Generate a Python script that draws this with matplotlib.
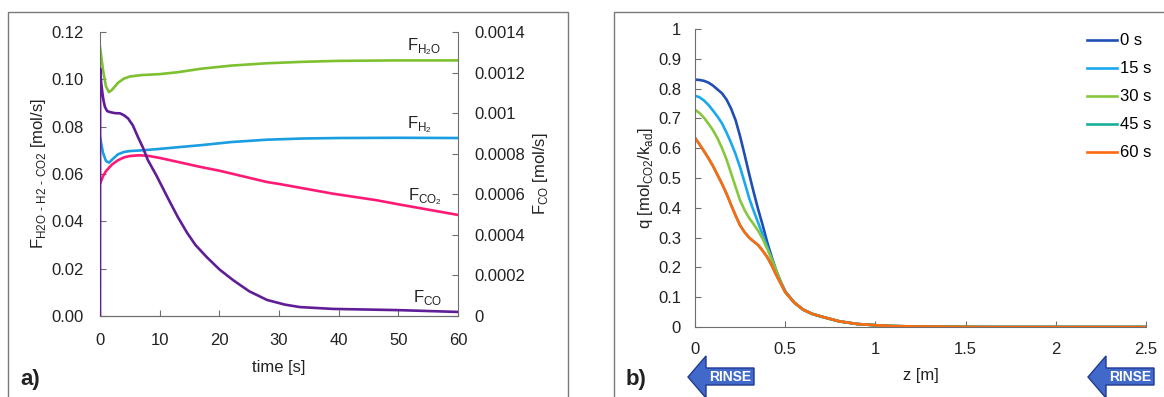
import matplotlib
matplotlib.use("Agg")
import matplotlib.pyplot as plt
from matplotlib.patches import Rectangle, Polygon

plt.rcParams['font.family'] = ['Liberation Sans', 'DejaVu Sans']

# ---- panel a) data: outlet flows vs time ----
t_h2o = [0, 0.5, 1.0, 1.5, 2, 3, 4, 5, 7, 10, 13, 17, 22, 28, 34, 40, 50, 60]
f_h2o = [0.1137, 0.104, 0.097, 0.0946, 0.0955, 0.0985, 0.1003, 0.1012, 0.1018,
         0.1022, 0.1030, 0.1045, 0.1058, 0.1068, 0.1074, 0.1078, 0.1080, 0.1080]

t_h2 = [0, 0.5, 1.0, 1.5, 2, 3, 4, 5, 7, 10, 13, 17, 22, 28, 34, 40, 50, 60]
f_h2 = [0.0756, 0.069, 0.0655, 0.0648, 0.0660, 0.0683, 0.0693, 0.0697, 0.0700,
        0.0706, 0.0713, 0.0722, 0.0735, 0.0745, 0.0750, 0.0752, 0.0753, 0.0752]

t_co2 = [0, 0.5, 1, 2, 3, 4, 5, 6.5, 8, 10, 16.8, 20, 28, 30, 39, 46.4, 50, 60]
f_co2 = [0.0559, 0.059, 0.0612, 0.0640, 0.0658, 0.0670, 0.0676, 0.0679, 0.0677,
         0.0668, 0.0630, 0.0614, 0.0566, 0.0558, 0.0517, 0.0489, 0.0472, 0.0427]

t_co = [0, 0.02, 0.2, 0.4, 0.6, 0.84, 1.2, 1.7, 2.5, 3.35, 4.0, 4.7, 5.5, 6.4,
        7.2, 8, 9.5, 11.4, 13, 14.6, 16, 17.9, 20, 22.3, 25, 28, 31, 33.5, 39,
        50, 60]
f_co = [0, 0.00122, 0.00115, 0.00110, 0.00106, 0.00103, 0.00101, 0.001005,
        0.001, 0.000999, 0.00099, 0.000974, 0.00094, 0.00088, 0.00083, 0.00077,
        0.00069, 0.00058, 0.00049, 0.00041, 0.00035, 0.00029, 0.00023, 0.000177,
        0.000122, 0.000079, 0.000056, 0.000044, 0.000035, 0.000029, 0.00002]

left_ticks = [0.00, 0.02, 0.04, 0.06, 0.08, 0.10, 0.12]
left_labels = ['0.00', '0.02', '0.04', '0.06', '0.08', '0.10', '0.12']
right_ticks = [0, 0.0002, 0.0004, 0.0006, 0.0008, 0.001, 0.0012, 0.0014]
right_labels = ['0', '0.0002', '0.0004', '0.0006', '0.0008', '0.001', '0.0012', '0.0014']

# ---- panel b) data: loading profiles along the column ----
z = [0, 0.025, 0.05, 0.075, 0.1, 0.125, 0.15, 0.175, 0.2, 0.225, 0.25, 0.275,
     0.3, 0.325, 0.35, 0.375, 0.4, 0.425, 0.45, 0.475, 0.5,
     0.55, 0.6, 0.65, 0.7, 0.75, 0.8, 0.9, 1.0, 1.1, 1.2, 1.4, 1.6, 2.0, 2.5]
tail = [0.082, 0.058, 0.044, 0.035, 0.027, 0.019, 0.010, 0.006, 0.003, 0.002,
        0.001, 0, 0, 0]
q_0s = [0.830, 0.829, 0.826, 0.820, 0.810, 0.797, 0.784, 0.763, 0.733, 0.694,
        0.640, 0.578, 0.514, 0.453, 0.395, 0.342, 0.285, 0.235, 0.190, 0.152,
        0.120] + tail
q_15s = [0.776, 0.771, 0.760, 0.745, 0.726, 0.706, 0.683, 0.652, 0.618, 0.580,
         0.536, 0.485, 0.433, 0.390, 0.350, 0.310, 0.270, 0.228, 0.186, 0.150,
         0.119] + tail
q_30s = [0.729, 0.718, 0.702, 0.682, 0.660, 0.633, 0.600, 0.562, 0.516, 0.470,
         0.425, 0.392, 0.366, 0.345, 0.323, 0.296, 0.263, 0.228, 0.190, 0.152,
         0.118] + tail
q_45s = [0.635, 0.613, 0.590, 0.566, 0.540, 0.510, 0.480, 0.447, 0.410, 0.374,
         0.341, 0.318, 0.300, 0.287, 0.275, 0.256, 0.235, 0.207, 0.175, 0.146,
         0.117] + tail
q_60s = [0.635, 0.613, 0.590, 0.566, 0.540, 0.510, 0.480, 0.447, 0.410, 0.374,
         0.341, 0.318, 0.300, 0.287, 0.275, 0.256, 0.235, 0.207, 0.175, 0.146,
         0.117] + tail
profiles = [q_0s, q_15s, q_30s, q_45s, q_60s]
profile_labels = ['0 s', '15 s', '30 s', '45 s', '60 s']
profile_colors = ['#1F4FB5', '#1AA8EE', '#86C73E', '#19AE9C', '#FF6A10']

z_ticks = [0, 0.5, 1, 1.5, 2, 2.5]
z_labels = ['0', '0.5', '1', '1.5', '2', '2.5']
q_ticks = [0, 0.1, 0.2, 0.3, 0.4, 0.5, 0.6, 0.7, 0.8, 0.9, 1.0]
q_labels = ['0', '0.1', '0.2', '0.3', '0.4', '0.5', '0.6', '0.7', '0.8', '0.9', '1']

SPINE = '#6e6e6e'
TXT = '#222222'
W, H = 1164, 397


def style_axis(ax, pad):
    for side in ['left', 'bottom', 'right']:
        ax.spines[side].set_color(SPINE)
    ax.spines['top'].set_visible(False)
    ax.tick_params(direction='in', length=4, color=SPINE, labelcolor=TXT,
                   labelsize=12, pad=pad)


def rinse_arrow(fig, x_tip):
    '''left pointing block arrow with RINSE written in its body (pixel coords)'''
    pts = [(x_tip, 377), (x_tip + 18, 356), (x_tip + 18, 368), (x_tip + 66, 368),
           (x_tip + 66, 385), (x_tip + 18, 385), (x_tip + 18, 398)]
    pts = [(px / W, 1 - py / H) for px, py in pts]
    fig.add_artist(Polygon(pts, closed=True, transform=fig.transFigure,
                           fc='#4169C9', ec='#1F3A8F', lw=1))
    fig.text((x_tip + 42) / W, 1 - 377 / H, 'RINSE', fontsize=10,
             fontweight='bold', color='white', ha='center', va='center')


fig = plt.figure(figsize=(11.64, 3.97), dpi=100)

# panel frames
fig.add_artist(Rectangle((8 / W, -0.1), 560 / W, 1.1 - 12 / H,
                         transform=fig.transFigure, fill=False, ec='#7a7a7a', lw=1))
fig.add_artist(Rectangle((614 / W, -0.1), 0.6, 1.1 - 12 / H,
                         transform=fig.transFigure, fill=False, ec='#7a7a7a', lw=1))

# ---------------- panel a) ----------------
ax = fig.add_axes([100 / W, 81 / H, 358 / W, 284 / H])
ax2 = ax.twinx()
style_axis(ax, 12)
style_axis(ax2, 12)
ax.spines['right'].set_visible(False)
ax2.spines['left'].set_visible(False)

ax.plot(t_h2o, f_h2o, color='#7DC130', lw=1.9)
ax.plot(t_h2, f_h2, color='#1B9DE2', lw=1.9)
ax.plot(t_co2, f_co2, color='#FF1A75', lw=1.9)
ax2.plot(t_co, f_co, color='#5F1E96', lw=1.9)

ax.set_xlim(0, 60)
ax.set_ylim(0, 0.12)
ax2.set_ylim(0, 0.0014)
ax.set_xticks([0, 10, 20, 30, 40, 50, 60])
ax.set_yticks(left_ticks)
ax.set_yticklabels(left_labels)
ax2.set_yticks(right_ticks)
ax2.set_yticklabels(right_labels)
ax.tick_params(axis='x', pad=12)

ax.set_xlabel('time [s]', fontsize=12, color=TXT, labelpad=9)
ax.set_ylabel('F$_{\\mathregular{H2O\\ \u2010\\ H2\\ \u2010\\ CO2}}$ [mol/s]',
              fontsize=12, color=TXT, labelpad=2)
ax2.set_ylabel(r'F$_{\mathregular{CO}}$ [mol/s]', fontsize=12, color=TXT,
               rotation=90, labelpad=4)

ax.text(51.5, 0.1124, r'F$_{\mathregular{H_2O}}$', fontsize=12, color=TXT)
ax.text(51.5, 0.0794, r'F$_{\mathregular{H_2}}$', fontsize=12, color=TXT)
ax.text(51.6, 0.0490, r'F$_{\mathregular{CO_2}}$', fontsize=12, color=TXT)
ax.text(52.5, 0.0059, r'F$_{\mathregular{CO}}$', fontsize=12, color=TXT)

fig.text(30 / W, 1 - 380 / H, 'a)', fontsize=16, fontweight='bold',
         ha='center', va='center', color=TXT)

# ---------------- panel b) ----------------
bx = fig.add_axes([695 / W, 70 / H, 451 / W, 298 / H])
style_axis(bx, 10)
bx.spines['right'].set_visible(False)
for q, lab, col in zip(profiles, profile_labels, profile_colors):
    bx.plot(z, q, color=col, lw=1.9, label=lab)
bx.set_xlim(0, 2.5)
bx.set_ylim(0, 1)
bx.set_xticks(z_ticks)
bx.set_xticklabels(z_labels)
bx.set_yticks(q_ticks)
bx.set_yticklabels(q_labels)
bx.tick_params(axis='x', pad=11)
bx.set_xlabel('z [m]', fontsize=12, color=TXT, labelpad=8)
bx.set_ylabel(r'q [mol$_{\mathregular{CO2}}$/k$_{\mathregular{ad}}$]', fontsize=12,
              color=TXT, labelpad=2)
bx.legend(loc='upper right', bbox_to_anchor=(1.012, 0.985), frameon=False,
          fontsize=12, handlelength=1.8, handletextpad=0.2, labelspacing=0.78,
          borderpad=0, borderaxespad=0)

fig.text(636 / W, 1 - 380 / H, 'b)', fontsize=16, fontweight='bold',
         ha='center', va='center', color=TXT)

# RINSE arrows below panel b)
for x_tip in [688, 1088]:
    rinse_arrow(fig, x_tip)

fig.savefig('out.png', dpi=100)
